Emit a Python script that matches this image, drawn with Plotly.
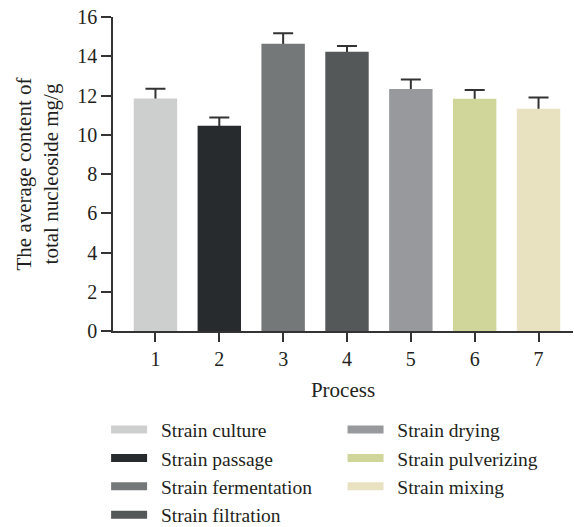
import plotly.graph_objects as go

# Average total nucleoside content (mg/g) per process step, with upper SD
processes = [1, 2, 3, 4, 5, 6, 7]
stage_names = ["Strain culture", "Strain passage", "Strain fermentation",
               "Strain filtration", "Strain drying", "Strain pulverizing",
               "Strain mixing"]
mean_content = [11.85, 10.46, 14.64, 14.23, 12.33, 11.84, 11.33]
sd_upper = [0.49, 0.42, 0.53, 0.29, 0.49, 0.44, 0.57]
bar_colors = ["#cdcfce", "#272b2d", "#757878", "#555859",
              "#98999c", "#d0d599", "#e8e2c1"]
y_ticks = [0, 2, 4, 6, 8, 10, 12, 14, 16]

FONT = "Liberation Serif"
INK = "#231f20"
AXIS = "#333333"
BAR_W = 0.68
LEGEND_PAD = "\u00a0\u2009"  # extra gap between swatch and label

fig = go.Figure()

# Error whiskers sit on a transparent bar layer; the coloured bars drawn
# afterwards hide the lower half so only the upper whisker shows.
fig.add_trace(go.Bar(
    x=processes,
    y=mean_content,
    width=BAR_W,
    marker=dict(color="rgba(0,0,0,0)", line=dict(width=0)),
    error_y=dict(type="data", symmetric=True, array=sd_upper,
                 color=AXIS, thickness=2, width=10),
    showlegend=False,
    hoverinfo="skip",
))

fig.add_trace(go.Bar(
    x=processes,
    y=mean_content,
    width=BAR_W,
    marker=dict(color=bar_colors, line=dict(width=0)),
    showlegend=False,
    hoverinfo="x+y",
))

# Legend entries: first four stages in the left column, the rest in the right
for i, (name, col) in enumerate(zip(stage_names, bar_colors)):
    fig.add_trace(go.Scatter(
        x=[None], y=[None], mode="lines", name=LEGEND_PAD + name,
        line=dict(color=col, width=8),
        legend="legend" if i < 4 else "legend2",
        legendgroup=name,
    ))

legend_common = dict(
    font=dict(family=FONT, size=19.5, color=INK),
    bgcolor="rgba(0,0,0,0)",
    tracegroupgap=0,
    itemwidth=36,
    yanchor="top",
    xanchor="left",
)

fig.update_layout(
    width=574,
    height=527,
    margin=dict(l=113, r=1, t=17, b=196, autoexpand=False),
    paper_bgcolor="white",
    plot_bgcolor="white",
    font=dict(family=FONT, size=20, color=INK),
    barmode="overlay",
    legend=dict(x=-0.015, y=-0.253, **legend_common),
    legend2=dict(x=0.499, y=-0.253, **legend_common),
    xaxis=dict(
        range=[0.335, 7.54],
        tickmode="array", tickvals=processes,
        ticks="outside", ticklen=9, tickwidth=1.5, tickcolor=AXIS,
        showline=True, linecolor=AXIS, linewidth=1.5,
        showgrid=False, zeroline=False,
        tickfont=dict(family=FONT, size=20, color=INK),
        title=dict(text="Process", font=dict(family=FONT, size=21, color=INK),
                   standoff=14),
    ),
    yaxis=dict(
        range=[0, 16],
        tickmode="array", tickvals=y_ticks,
        ticks="outside", ticklen=10, tickwidth=1.5, tickcolor=AXIS,
        showline=True, linecolor=AXIS, linewidth=1.5,
        showgrid=False, zeroline=False,
        tickfont=dict(family=FONT, size=20, color=INK),
        title=dict(text="The average content of<br>total nucleoside mg/g",
                   font=dict(family=FONT, size=21, color=INK), standoff=13),
    ),
)

fig.write_html("out.html")
